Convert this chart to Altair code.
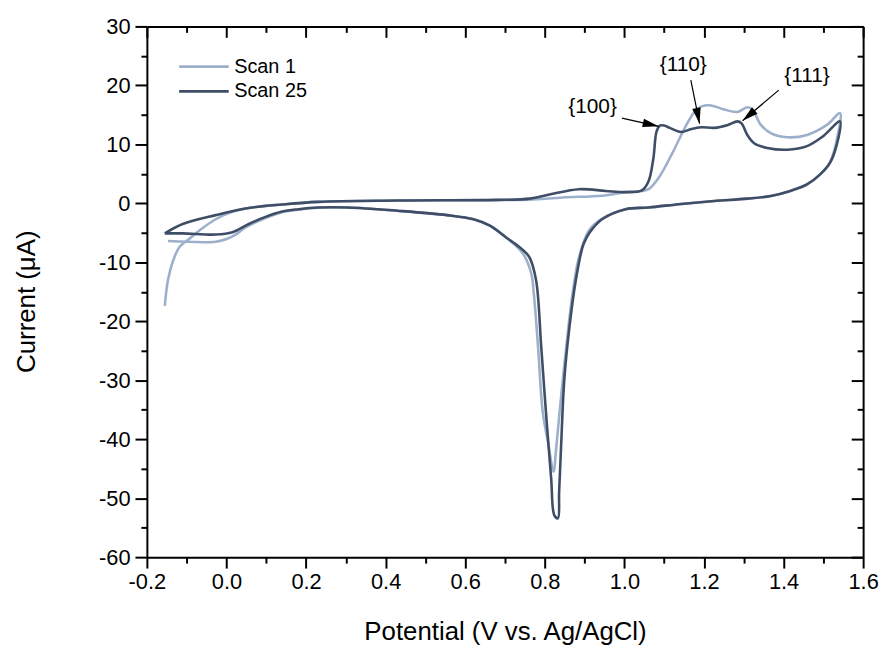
import math
import altair as alt
import pandas as pd

# ---------------- data ----------------
scan_names = ["Scan 1", "Scan 25"]
scan_colors = ["#9DB0CB", "#3F4E66"]

# Scan 1 (light): anodic sweep then cathodic sweep
s1_v = [-0.155, -0.147, -0.134, -0.118, -0.093, -0.068, -0.027, 0.006, 0.056, 0.14,
        0.23, 0.43, 0.679, 0.762, 0.845, 0.944, 1.003, 1.044, 1.061, 1.086,
        1.119, 1.152, 1.177, 1.193, 1.218, 1.251, 1.284, 1.309, 1.322, 1.343,
        1.368, 1.409, 1.459, 1.509, 1.542,
        1.536, 1.517, 1.492, 1.459, 1.417, 1.368, 1.309, 1.226, 1.143, 1.061,
        1.003, 0.944, 0.911, 0.886, 0.871, 0.854, 0.837, 0.828, 0.822, 0.808,
        0.795, 0.783, 0.772, 0.766, 0.745, 0.703, 0.662, 0.621, 0.554, 0.43,
        0.305, 0.23, 0.181, 0.14, 0.098, 0.048, 0.023, 0.002, -0.027, -0.147]
s1_i = [-17.4, -13.0, -9.7, -7.4, -6.0, -4.6, -2.7, -1.65, -0.8, -0.2,
        0.25, 0.47, 0.55, 0.6, 1.0, 1.3, 1.9, 2.1, 2.4, 4.3,
        8.3, 12.8, 15.6, 16.4, 16.6, 15.9, 15.5, 16.3, 15.9, 13.3,
        11.9, 11.2, 11.6, 13.3, 15.3,
        11.5, 7.0, 4.9, 3.2, 2.1, 1.25, 0.8, 0.4, -0.1, -0.7,
        -1.0, -2.6, -4.6, -9.1, -14.7, -24.3, -35.5, -42.0, -45.5, -40.5,
        -35.5, -24.3, -15.0, -11.9, -8.5, -5.8, -3.8, -2.7, -2.0, -1.26,
        -0.7, -0.75, -1.1, -1.5, -2.5, -4.1, -5.3, -6.0, -6.5, -6.4]

# Scan 25 (dark): anodic sweep then cathodic sweep (closed loop)
s25_v = [-0.155, -0.11, -0.027, 0.056, 0.14, 0.23, 0.43, 0.679, 0.762, 0.812,
         0.886, 0.953, 1.003, 1.044, 1.061, 1.073, 1.081, 1.09, 1.1, 1.114,
         1.143, 1.168, 1.193, 1.226, 1.26, 1.284, 1.294, 1.309, 1.326, 1.359,
         1.409, 1.459, 1.5, 1.542,
         1.534, 1.517, 1.492, 1.459, 1.417, 1.368, 1.309, 1.226, 1.143, 1.061,
         1.003, 0.944, 0.92, 0.905, 0.895, 0.878, 0.861, 0.849, 0.841, 0.836,
         0.833, 0.824, 0.816, 0.803, 0.791, 0.778, 0.761, 0.736, 0.703, 0.662,
         0.621, 0.554, 0.43, 0.305, 0.23, 0.181, 0.14, 0.098, 0.056, 0.015,
         -0.027, -0.11, -0.155]
s25_i = [-5.1, -3.5, -2.0, -0.8, -0.2, 0.25, 0.47, 0.59, 0.8, 1.5,
         2.4, 2.1, 1.9, 2.2, 3.8, 7.7, 12.2, 13.2, 13.2, 12.8,
         12.1, 12.6, 12.9, 12.8, 13.3, 13.9, 13.6, 11.6, 10.2, 9.4,
         9.1, 9.7, 11.4, 13.9,
         10.0, 6.9, 4.9, 3.2, 2.1, 1.25, 0.8, 0.4, -0.1, -0.7,
         -1.0, -2.7, -4.3, -5.8, -7.4, -13.0, -21.5, -29.9, -41.1, -49.0,
         -53.4, -52.9, -46.7, -35.5, -24.3, -13.0, -9.1, -7.4, -5.8, -3.8,
         -2.7, -2.0, -1.26, -0.7, -0.7, -1.0, -1.4, -2.3, -3.5, -4.9,
         -5.3, -5.1, -5.1]

# annotations
ann_text = ["{100}", "{110}", "{111}"]
ann_v = [0.92, 1.148, 1.459]
ann_i = [16.4, 23.4, 21.5]
arrow_v1 = [0.994, 1.167, 1.388]
arrow_i1 = [14.45, 20.9, 19.2]
arrow_v2 = [1.086, 1.189, 1.297]
arrow_i2 = [13.06, 13.5, 14.0]

x_ticks = [-0.2, -0.1, 0.0, 0.1, 0.2, 0.3, 0.4, 0.5, 0.6, 0.7, 0.8, 0.9,
           1.0, 1.1, 1.2, 1.3, 1.4, 1.5, 1.6]
y_ticks = [-60, -55, -50, -45, -40, -35, -30, -25, -20, -15, -10, -5,
           0, 5, 10, 15, 20, 25, 30]

# ---------------- layout ----------------
W, H = 722, 535
XMIN, XMAX = -0.2, 1.6
YMIN, YMAX = -60, 30
FONT = "Liberation Sans"

rows = []
for name, vs, cs in [(scan_names[0], s1_v, s1_i), (scan_names[1], s25_v, s25_i)]:
    for k, (v, c) in enumerate(zip(vs, cs)):
        rows.append({"scan": name, "V": v, "I": c, "order": k})
df = pd.DataFrame(rows)

df_ann = pd.DataFrame({"label": ann_text, "V": ann_v, "I": ann_i})

pxV = W / (XMAX - XMIN)
pxI = H / (YMAX - YMIN)
angles = []
for a, b, c, d in zip(arrow_v1, arrow_i1, arrow_v2, arrow_i2):
    dx = (c - a) * pxV
    dy = -(d - b) * pxI
    angles.append(math.degrees(math.atan2(dx, -dy)) % 360)
df_arr = pd.DataFrame({"v1": arrow_v1, "i1": arrow_i1, "v2": arrow_v2,
                       "i2": arrow_i2, "ang": angles})

xscale = alt.Scale(domain=[XMIN, XMAX], nice=False, zero=False)
yscale = alt.Scale(domain=[YMIN, YMAX], nice=False, zero=False)

x_major = "abs(round(datum.value*10)) % 2 == 0"
y_major = "datum.value % 10 == 0"

common = dict(domainColor="black", domainWidth=2, tickColor="black",
              tickWidth=2, grid=False)

x_axis = alt.Axis(
    values=x_ticks,
    labelExpr=f"{x_major} ? replace(format(datum.value, '.1f'), '\u2212', '-') : ''",
    tickSize={"condition": {"test": x_major, "value": 11}, "value": 6},
    labelFont=FONT, labelFontSize=22, labelColor="black", labelPadding=4,
    labelOverlap=False, labelFlush=False,
    title="Potential (V vs. Ag/AgCl)", titleFont=FONT, titleFontSize=26,
    titleFontWeight="normal", titleColor="black", titleY=83,
    titleBaseline="alphabetic",
    **common)
y_axis = alt.Axis(
    values=y_ticks,
    labelExpr=f"{y_major} ? '' + datum.value : ''",
    tickSize={"condition": {"test": y_major, "value": 12}, "value": 6},
    labelFont=FONT, labelFontSize=22, labelColor="black", labelPadding=5,
    labelOverlap=False, labelFlush=False,
    title="Current (\u03bcA)", titleFont=FONT, titleFontSize=26,
    titleFontWeight="normal", titleColor="black", titleX=-121, titleY=277,
    titleBaseline="middle",
    **common)

x_mirror = alt.Axis(orient="bottom", offset=-H, values=x_ticks, labels=False,
                    title=None,
                    tickSize={"condition": {"test": x_major, "value": 11}, "value": 6},
                    **common)
y_mirror = alt.Axis(orient="left", offset=-W, values=y_ticks, labels=False,
                    title=None,
                    tickSize={"condition": {"test": y_major, "value": 12}, "value": 6},
                    **common)

lines = alt.Chart(df).mark_line(strokeWidth=2.6, interpolate="catmull-rom").encode(
    x=alt.X("V:Q", scale=xscale, axis=x_axis),
    y=alt.Y("I:Q", scale=yscale, axis=y_axis),
    color=alt.Color("scan:N", scale=alt.Scale(domain=scan_names, range=scan_colors),
                    legend=alt.Legend(orient="none", legendX=31, legendY=29,
                                      title=None, symbolType="stroke",
                                      symbolSize=2500, symbolStrokeWidth=2.6,
                                      labelFont=FONT, labelFontSize=20,
                                      labelColor="black", labelOffset=4,
                                      clipHeight=23, rowPadding=2, padding=0)),
    order=alt.Order("order:Q"),
)

rules = alt.Chart(df_arr).mark_rule(color="black", strokeWidth=1.2).encode(
    x=alt.X("v1:Q", scale=xscale, axis=None),
    y=alt.Y("i1:Q", scale=yscale, axis=None),
    x2="v2:Q", y2="i2:Q",
)

heads = alt.Chart(df_arr).mark_point(
    shape="M0,0L-0.4,1.5L0.4,1.5Z", filled=True, color="black", opacity=1,
    size=460, strokeWidth=0,
).encode(
    x=alt.X("v2:Q", scale=xscale, axis=None),
    y=alt.Y("i2:Q", scale=yscale, axis=None),
    angle=alt.Angle("ang:Q", scale=None),
)

texts = alt.Chart(df_ann).mark_text(font=FONT, fontSize=21, color="black").encode(
    x=alt.X("V:Q", scale=xscale, axis=x_mirror),
    y=alt.Y("I:Q", scale=yscale, axis=y_mirror),
    text="label:N",
)

chart = alt.layer(lines, rules, heads, texts).resolve_axis(
    x="independent", y="independent"
).properties(
    width=W, height=H,
    autosize=alt.AutoSizeParams(type="none"),
    padding={"left": 140, "top": 16, "right": 16, "bottom": 88},
    background="white",
).configure_view(strokeWidth=0)

chart.save("out.html", embed_options={"renderer": "svg", "actions": False})
